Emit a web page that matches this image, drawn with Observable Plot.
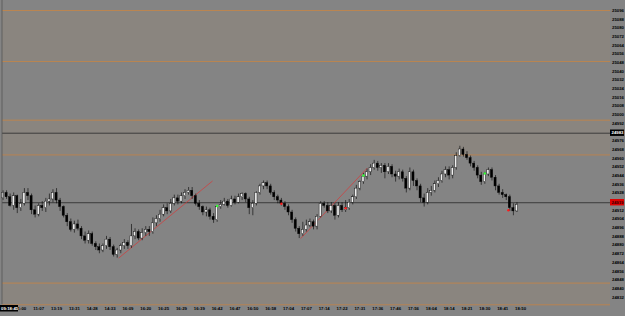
<!DOCTYPE html>
<html><head><meta charset="utf-8">
<script src="https://cdn.jsdelivr.net/npm/d3@7"></script>
<script src="https://cdn.jsdelivr.net/npm/@observablehq/plot@0.6"></script>
<style>
html,body{margin:0;padding:0;background:#848484;overflow:hidden;}
</style></head><body><div id="chart"></div>
<script>
const opens = [24923,24928,24924,24916,24925,24914,24918,24928,24925,24912,
24908,24916,24914,24920,24922,24928,24921,24915,24907,24901,
24894,24899,24895,24888,24884,24890,24881,24878,24875,24879,
24885,24878,24871,24875,24879,24882,24879,24888,24892,24886,
24891,24894,24892,24900,24904,24908,24914,24911,24918,24923,
24920,24925,24928,24930,24925,24918,24915,24910,24912,24906,
24903,24915,24917,24920,24916,24922,24919,24924,24927,24922,
24914,24918,24928,24934,24937,24934,24928,24924,24921,24918,
24915,24910,24903,24895,24890,24894,24898,24901,24897,24906,
24918,24916,24911,24916,24907,24916,24912,24914,24919,24924,
24932,24938,24943,24947,24951,24955,24951,24953,24947,24952,
24945,24943,24947,24941,24932,24947,24939,24934,24923,24919,
24928,24930,24936,24939,24945,24949,24944,24951,24962,24968,
24963,24960,24955,24951,24944,24938,24945,24949,24942,24934,
24928,24926,24924,24914,24911];
const highs = [24930,24930,24927,24928,24926,24922,24932,24932,24927,24916,
24918,24920,24923,24927,24931,24932,24923,24916,24909,24904,
24902,24903,24897,24892,24893,24892,24883,24881,24881,24888,
24887,24880,24877,24881,24885,24884,24899,24895,24894,24895,
24897,24897,24905,24907,24912,24917,24918,24922,24926,24926,
24928,24931,24933,24933,24927,24921,24916,24915,24914,24909,
24916,24921,24923,24922,24925,24925,24927,24928,24928,24924,
24921,24929,24936,24939,24939,24936,24930,24926,24923,24920,
24917,24912,24905,24897,24901,24903,24904,24903,24908,24920,
24920,24919,24919,24918,24919,24919,24921,24922,24926,24935,
24939,24946,24950,24954,24958,24957,24955,24955,24955,24954,
24948,24950,24949,24943,24951,24949,24941,24936,24927,24932,
24934,24939,24942,24948,24952,24952,24953,24965,24971,24970,
24966,24962,24957,24953,24947,24947,24951,24951,24944,24936,
24931,24927,24926,24918,24919];
const lows = [24921,24922,24915,24912,24909,24911,24916,24921,24908,24905,
24906,24911,24910,24916,24919,24918,24911,24905,24897,24892,
24891,24893,24885,24881,24881,24879,24875,24872,24873,24876,
24875,24869,24868,24872,24876,24876,24877,24885,24884,24884,
24888,24888,24890,24897,24901,24906,24908,24909,24916,24917,
24918,24922,24926,24922,24916,24912,24907,24906,24903,24900,
24901,24913,24916,24914,24915,24917,24918,24921,24919,24908,
24907,24916,24926,24931,24931,24926,24921,24918,24916,24912,
24907,24900,24892,24886,24888,24892,24896,24894,24894,24905,
24914,24909,24909,24903,24905,24910,24910,24912,24917,24922,
24930,24936,24940,24944,24949,24948,24946,24941,24945,24942,
24938,24940,24938,24928,24930,24934,24930,24919,24915,24917,
24925,24928,24933,24937,24942,24940,24941,24949,24961,24961,
24958,24952,24948,24941,24935,24936,24943,24939,24930,24926,
24923,24921,24911,24907,24910];
const closes = [24928,24924,24916,24925,24914,24918,24928,24925,24912,24908,
24916,24914,24920,24922,24928,24921,24915,24907,24901,24894,
24899,24895,24888,24884,24890,24881,24878,24875,24879,24885,
24878,24871,24875,24879,24882,24879,24888,24892,24886,24891,
24894,24892,24900,24904,24908,24914,24911,24918,24923,24920,
24925,24928,24930,24925,24918,24915,24910,24912,24906,24903,
24915,24917,24920,24916,24922,24919,24924,24927,24922,24914,
24918,24928,24934,24937,24934,24928,24924,24921,24918,24915,
24910,24903,24895,24890,24894,24898,24901,24897,24906,24918,
24916,24911,24916,24907,24916,24912,24914,24919,24924,24932,
24938,24943,24947,24951,24955,24951,24953,24947,24952,24945,
24943,24947,24941,24932,24947,24939,24934,24923,24919,24928,
24930,24936,24939,24945,24949,24944,24951,24962,24968,24963,
24960,24955,24951,24944,24938,24945,24949,24942,24934,24928,
24926,24924,24914,24911,24917];
const timeLabels = ["11:00","11:07","13:19","13:31","14:28","14:33","16:09","16:20","16:25","16:29",
"16:39","16:42","16:47","16:50","16:58","17:04","17:07","17:14","17:22","17:31",
"17:36","17:46","17:56","18:04","18:14","18:21","18:30","18:41","18:50"];
const timeTickBars = timeLabels.map((_, j) => 5 + 5 * j);
const yTicks = [25096,25088,25080,25072,25064,25056,25048,25040,25032,25024,25016,25008,
25000,24992,24976,24968,24960,24952,24944,24936,24928,24912,24904,24896,
24888,24880,24872,24864,24856,24848,24840,24832];
const orangeLevels = [25096, 25049, 24995, 24963, 24845, 24825];
const zoneTop = [25096, 24995, 24845];
const zoneBottom = [25049, 24963, 24825];
const blackLevels = [24983, 24919];
const blackLabels = ["24983", "24919"];
const trendFromBar = [32.4, 83.4];
const trendFromPrice = [24868, 24886];
const trendToBar = [58.7, 102.1];
const trendToPrice = [24939, 24951];
const greenBars = [60, 101, 135];
const greenPrices = [24916, 24944, 24946];
const redBars = [78, 96, 141.6];
const redPrices = [24918, 24914, 24912];
const cursorTime = "09:18:45";

const candles = opens.map((o, i) => ({i, o, h: highs[i], l: lows[i], c: closes[i], up: closes[i] >= o}));
const zones = zoneTop.map((t, k) => ({t, b: zoneBottom[k]}));
const trends = trendFromBar.map((x1, k) => ({x1, y1: trendFromPrice[k], x2: trendToBar[k], y2: trendToPrice[k]}));
const greens = greenBars.map((x, k) => ({x, y: greenPrices[k]}));
const reds = redBars.map((x, k) => ({x, y: redPrices[k]}));

const FONT = "Liberation Sans";
const chart = Plot.plot({
  width: 625, height: 316,
  marginLeft: 2, marginRight: 15, marginTop: 0, marginBottom: 12,
  style: {background: "#848484", color: "#000", fontSize: "4.3px", fontFamily: FONT, fontWeight: "bold", overflow: "visible"},
  x: {domain: [0, 146], range: [2.5, 523.6]},
  y: {domain: [24832, 25096], range: [296.7, 10]},
  marks: [
    Plot.rect(zones, {y1: "t", y2: "b", fill: "#8a857f"}),
    Plot.ruleY(orangeLevels, {stroke: "#c0844c", strokeWidth: 0.9}),
    Plot.ruleY(blackLevels, {stroke: "#2a2a2a", strokeWidth: 0.8}),
    Plot.link(trends, {x1: "x1", y1: "y1", x2: "x2", y2: "y2", stroke: "#d83838", strokeWidth: 0.7}),
    Plot.ruleX(candles, {x: "i", y1: "l", y2: "h", stroke: "#000", strokeWidth: 0.6}),
    Plot.rect(candles, {x1: d => d.i - 0.3, x2: d => d.i + 0.3, y1: "o", y2: "c",
      fill: d => d.up ? "#f0f0f0" : "#000", stroke: "#000", strokeWidth: 0.4}),
    Plot.dot(greens, {x: "x", y: "y", r: 1.2, fill: "#33ff33"}),
    Plot.dot(reds, {x: "x", y: "y", r: 1.2, fill: "#ff1a1a"}),
    Plot.axisY({anchor: "right", ticks: yTicks, tickSize: 0, tickPadding: 1.5, label: null, tickFormat: d => String(d)}),
    Plot.axisX({anchor: "bottom", ticks: timeTickBars, tickSize: 0, tickPadding: 2.2, label: null,
      tickFormat: d => timeLabels[(d - 5) / 5]})
  ]
});
document.getElementById("chart").appendChild(chart);

const svg = d3.select(chart);
const ys = chart.scale("y");
svg.append("line").attr("x1", 2).attr("x2", 2).attr("y1", 0).attr("y2", 304).attr("stroke", "#555").attr("stroke-width", 0.8);
blackLevels.forEach((v, k) => {
  const y = ys.apply(v);
  svg.append("rect").attr("x", 610).attr("y", y - 3.2).attr("width", 14).attr("height", 6.4)
    .attr("fill", k === 0 ? "#000" : "#e00000");
  svg.append("text").attr("x", 611.5).attr("y", y).attr("dy", "0.35em").attr("text-anchor", "start")
    .attr("fill", k === 0 ? "#fff" : "#300").attr("font-size", 4.3).attr("font-weight", "bold").attr("font-family", FONT)
    .text(blackLabels[k]);
});
svg.append("rect").attr("x", 0).attr("y", 305).attr("width", 18).attr("height", 6.5).attr("fill", "#000");
svg.append("text").attr("x", 1).attr("y", 308.3).attr("dy", "0.35em").attr("text-anchor", "start").attr("fill", "#fff")
  .attr("font-size", 4.3).attr("font-weight", "bold").attr("font-family", FONT).text(cursorTime);
</script></body></html>
